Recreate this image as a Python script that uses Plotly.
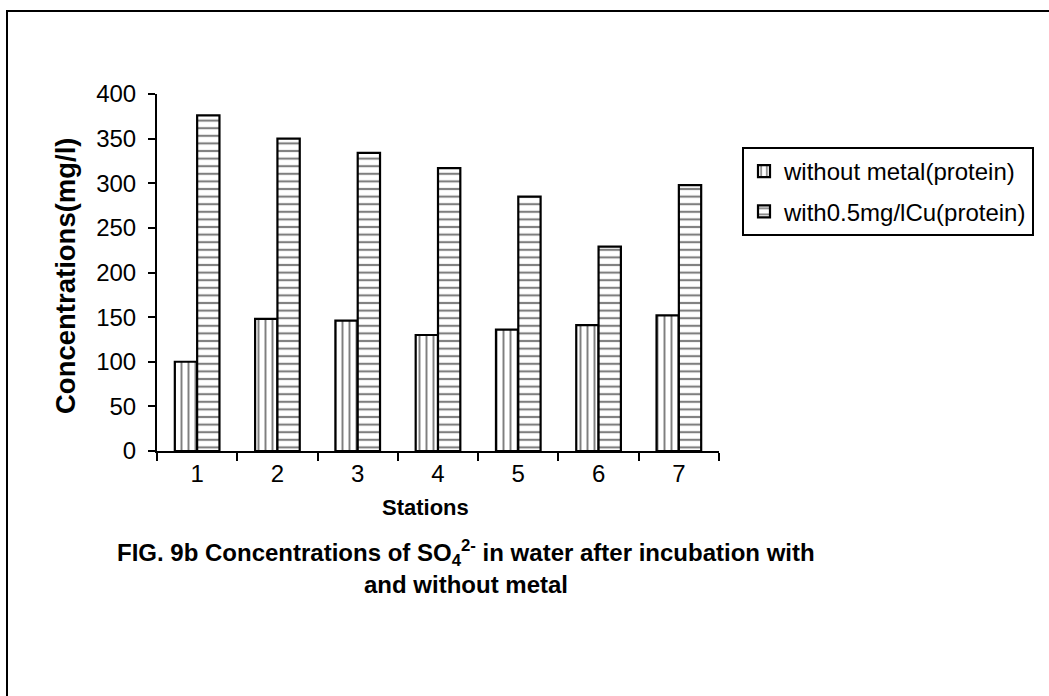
import plotly.graph_objects as go

stations = ["1", "2", "3", "4", "5", "6", "7"]
without_metal = [100, 148, 146, 130, 136, 141, 152]
with_cu = [376, 350, 334, 317, 285, 229, 298]
series_names = ["without metal(protein)", "with0.5mg/lCu(protein)"]
y_ticks = [0, 50, 100, 150, 200, 250, 300, 350, 400]

W, H = 1049, 696
L, R_EDGE, T, B_EDGE = 157, 719, 94, 451  # plot area in pixels
PW, PH = R_EDGE - L, B_EDGE - T

def px(x):
    return (x - L) / PW

def py(y):
    return (B_EDGE - y) / PH

FONT = "Liberation Sans, Arial, sans-serif"

fig = go.Figure()
fig.add_trace(go.Bar(
    x=stations, y=without_metal, name=series_names[0], legendgroup="a",
    marker=dict(color="white", line=dict(color="black", width=2.2),
                pattern=dict(shape="|", size=7, solidity=0.28, fgcolor="black", bgcolor="white")),
))
fig.add_trace(go.Bar(
    x=stations, y=with_cu, name=series_names[1], legendgroup="b",
    marker=dict(color="white", line=dict(color="black", width=2.2),
                pattern=dict(shape="-", size=7.6, solidity=0.28, fgcolor="black", bgcolor="white")),
))

fig.update_layout(
    width=W, height=H,
    margin=dict(l=L, r=W - R_EDGE, t=T, b=H - B_EDGE, autoexpand=False),
    paper_bgcolor="white", plot_bgcolor="white",
    barmode="group", bargap=0.444, bargroupgap=0,
    font=dict(family=FONT, size=24, color="black"),
    showlegend=True,
    legend=dict(x=px(742), y=py(147), xanchor="left", yanchor="top",
                bordercolor="black", borderwidth=2, bgcolor="white",
                font=dict(size=24, family=FONT), tracegroupgap=6,
                traceorder="grouped"),
    xaxis=dict(type="category", showline=True, linecolor="black", linewidth=2,
               ticks="outside", tickson="boundaries", ticklen=8, tickwidth=2,
               tickcolor="black", showgrid=False, zeroline=False,
               tickfont=dict(size=24, family=FONT)),
    yaxis=dict(range=[0, 400], tickvals=y_ticks, showline=True, linecolor="black",
               linewidth=2, ticks="outside", ticklen=7, tickwidth=2, tickcolor="black",
               showgrid=False, zeroline=False, ticklabelstandoff=7,
               tickfont=dict(size=24, family=FONT)),
)

annotations = [
    dict(text="<b>Stations</b>", x=px(425), y=py(508), font=dict(size=22)),
    dict(text="<b>Concentrations(mg/l)</b>", x=px(65), y=py(276), textangle=-90,
         font=dict(size=27.5)),
    dict(text="<b>FIG. 9b Concentrations of SO<sub>4</sub><sup>2-</sup> in water after incubation with</b>",
         x=px(466), y=py(553), font=dict(size=24)),
    dict(text="<b>and without metal</b>", x=px(466), y=py(584), font=dict(size=24)),
]
for a in annotations:
    fig.add_annotation(xref="paper", yref="paper", showarrow=False,
                       xanchor="center", yanchor="middle", **a)

fig.add_shape(type="rect", xref="paper", yref="paper",
              x0=px(7), x1=px(1070), y0=py(11), y1=py(720),
              line=dict(color="black", width=2), fillcolor="rgba(0,0,0,0)", layer="below")

fig.write_html("out.html")
